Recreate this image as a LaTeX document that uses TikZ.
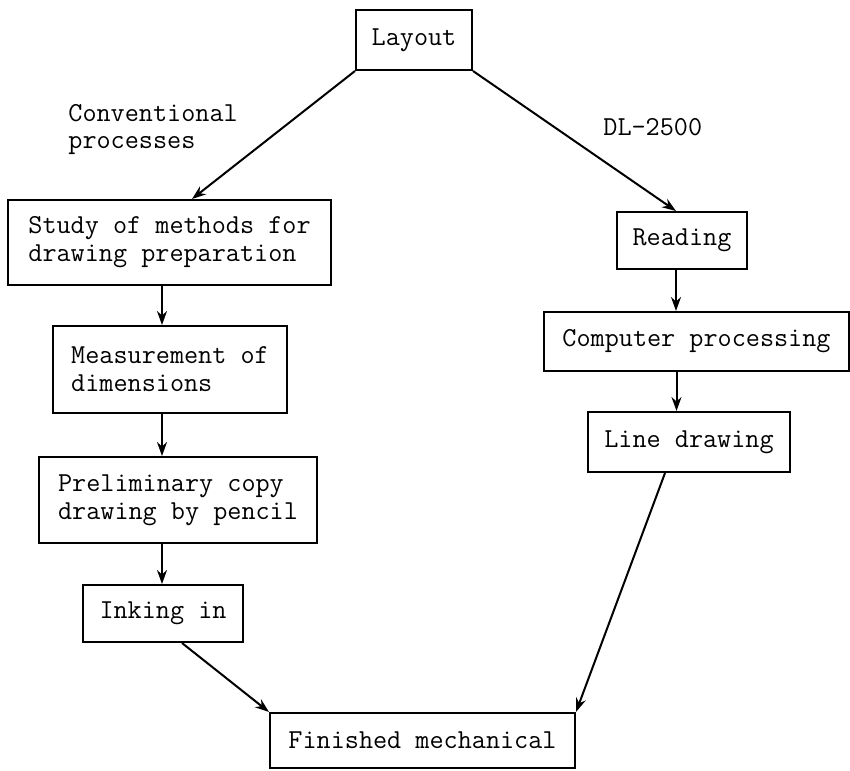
\documentclass[tikz,border=0pt]{standalone}
\usetikzlibrary{arrows.meta,calc}
\begin{document}
\begin{tikzpicture}[x=0.5pt,y=-0.5pt,
  box/.style={draw,line width=1pt,rectangle,inner sep=0pt,align=left,
    font=\ttfamily\fontsize{13.7}{14}\selectfont},
  lbl/.style={inner sep=0pt,align=left,font=\ttfamily\fontsize{13.7}{13.5}\selectfont},
  arr/.style={line width=1pt,-{Stealth[length=7pt,width=5pt]}}]
\useasboundingbox (0,0) rectangle (850,770);
\node[box,minimum width=58pt,minimum height=30pt] (layout) at (414,40) {Layout};
\node[box,minimum width=161.5pt,minimum height=42.5pt] (study) at (169.5,242.5) {Study of methods for\\drawing preparation};
\node[box,minimum width=117pt,minimum height=43.5pt] (meas) at (170,369.5) {Measurement of\\dimensions};
\node[box,minimum width=139pt,minimum height=43pt] (prel) at (178,500) {Preliminary copy\\drawing by pencil};
\node[box,minimum width=80pt,minimum height=28.5pt] (ink) at (163,613.5) {Inking in};
\node[box,minimum width=65pt,minimum height=28.5pt] (read) at (682,240.5) {Reading};
\node[box,minimum width=152.5pt,minimum height=29.5pt] (comp) at (696.5,341.5) {Computer processing};
\node[box,minimum width=101pt,minimum height=30pt] (line) at (689,442) {Line drawing};
\node[box,minimum width=152.5pt,minimum height=27.5pt] (fin) at (422.5,740.5) {Finished mechanical};
\node[lbl,anchor=west] (conv) at (68,130) {Conventional\\processes};
\node[lbl,anchor=base west] (dl) at (603,136) {DL-2500};
\draw[arr] (layout.south west) -- ([xshift=11.25pt]study.north);
\draw[arr] (layout.south east) -- ([xshift=-3pt]read.north);
\draw[arr] ([xshift=-3.75pt]study.south) -- ([xshift=-3.75pt]study.south |- meas.north);
\draw[arr] ([xshift=-4pt]meas.south) -- ([xshift=-4pt]meas.south |- prel.north);
\draw[arr] ([xshift=-8pt]prel.south) -- ([xshift=-8pt]prel.south |- ink.north);
\draw[arr] ([xshift=-3pt]read.south) -- ([xshift=-3pt]read.south |- comp.north);
\draw[arr] ([xshift=-10pt]comp.south) -- ([xshift=-10pt]comp.south |- line.north);
\draw[arr] ([xshift=9.5pt]ink.south) -- (fin.north west);
\draw[arr] ([xshift=-12pt]line.south) -- (fin.north east);
\end{tikzpicture}
\end{document}
